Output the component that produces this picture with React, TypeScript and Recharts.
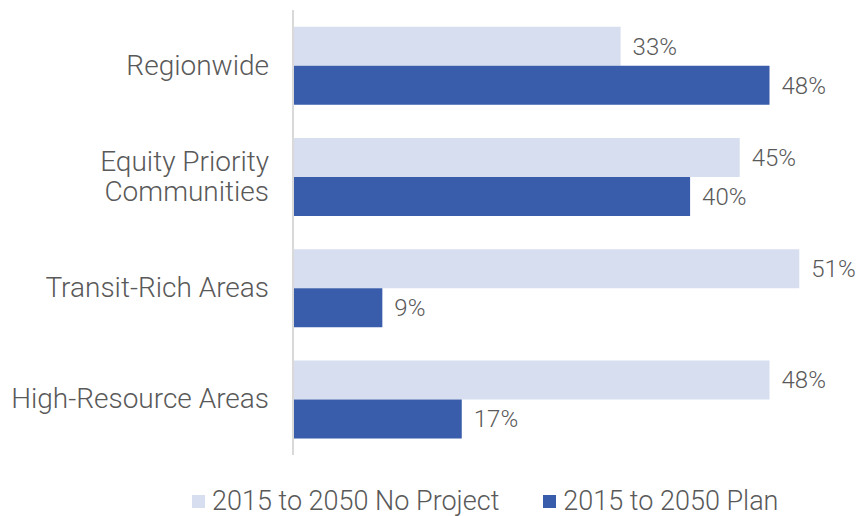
import { BarChart, Bar, XAxis, YAxis, Legend, LabelList } from 'recharts'

const categories = ['Regionwide', 'Equity Priority Communities', 'Transit-Rich Areas', 'High-Resource Areas']
const noProject = [33, 45, 51, 48]
const plan = [48, 40, 9, 17]
const seriesNames = ['2015 to 2050 No Project', '2015 to 2050 Plan']

const LIGHT = '#d6deef'
const DARK = '#3a5dab'
const TEXT = '#595959'
const FONT = 'Roboto, sans-serif'

const data = categories.map((name, i) => ({ name, noProject: noProject[i], plan: plan[i] }))

const tickLines: Record<string, string[]> = {
  'Equity Priority Communities': ['Equity Priority', 'Communities'],
}

function CategoryTick({ x, y, payload }: any) {
  const lines = tickLines[payload.value] ?? [payload.value]
  const lh = 30
  const start = -((lines.length - 1) * lh) / 2
  return (
    <text x={x} y={y} textAnchor="end" fill={TEXT} fontSize={28} fontWeight={300} fontFamily={FONT}>
      {lines.map((l, i) => (
        <tspan key={i} x={x} dy={i === 0 ? start + 9 : lh}>
          {l}
        </tspan>
      ))}
    </text>
  )
}

function LegendContent() {
  const colors = [LIGHT, DARK]
  return (
    <div
      style={{
        display: 'flex',
        justifyContent: 'flex-start',
        alignItems: 'center',
        height: 30,
        paddingLeft: 192,
        gap: 44,
        fontFamily: FONT,
        fontWeight: 300,
        fontSize: 27,
        lineHeight: '30px',
        color: TEXT,
      }}
    >
      {seriesNames.map((n, i) => (
        <div key={n} style={{ display: 'flex', alignItems: 'center', gap: 7 }}>
          <span style={{ width: 13, height: 13, background: colors[i], display: 'inline-block' }} />
          <span>{n}</span>
        </div>
      ))}
    </div>
  )
}

export default function App() {
  return (
    <div style={{ position: 'absolute', left: 0, top: 0, width: 857, height: 516, background: '#fff' }}>
      <BarChart
        width={857}
        height={516}
        data={data}
        layout="vertical"
        margin={{ top: 10, right: 18, bottom: 31, left: 0 }}
        barCategoryGap="15%"
        barGap={0}
      >
        <XAxis type="number" domain={[0, 55]} hide />
        <YAxis
          type="category"
          dataKey="name"
          width={293}
          tickLine={false}
          axisLine={{ stroke: '#d9d9d9', strokeWidth: 2 }}
          tick={<CategoryTick />}
          tickMargin={18}
          interval={0}
        />
        <Legend
          verticalAlign="bottom"
          content={<LegendContent />}
          wrapperStyle={{ bottom: 0, left: 0, width: 857, height: 30 }}
        />
        <Bar dataKey="noProject" name={seriesNames[0]} fill={LIGHT} isAnimationActive={false}>
          <LabelList
            dataKey="noProject"
            position="right"
            offset={12}
            formatter={(v: any) => `${v}%`}
            style={{ fill: TEXT, fontSize: 24, fontWeight: 300, fontFamily: FONT }}
          />
        </Bar>
        <Bar dataKey="plan" name={seriesNames[1]} fill={DARK} isAnimationActive={false}>
          <LabelList
            dataKey="plan"
            position="right"
            offset={12}
            formatter={(v: any) => `${v}%`}
            style={{ fill: TEXT, fontSize: 24, fontWeight: 300, fontFamily: FONT }}
          />
        </Bar>
      </BarChart>
    </div>
  )
}
